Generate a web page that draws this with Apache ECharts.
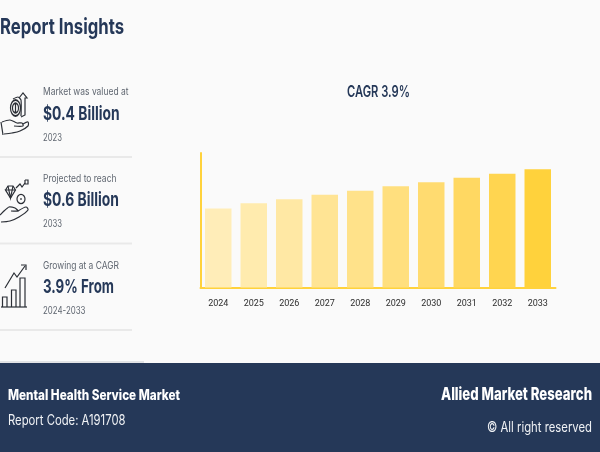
<!DOCTYPE html>
<html>
<head>
<meta charset="utf-8">
<style>
html,body{margin:0;padding:0;background:#fafafa;}
#chart{width:600px;height:452px;}
</style>
<script src="https://cdn.jsdelivr.net/npm/echarts@6/dist/echarts.min.js"></script>
</head>
<body>
<div id="chart"></div>
<script>
// data
var years = ['2024','2025','2026','2027','2028','2029','2030','2031','2032','2033'];
var marketValues = [0.40,0.426,0.446,0.469,0.489,0.512,0.532,0.555,0.575,0.598];
var barColors = ['#ffedb8','#ffebae','#ffe8a4','#ffe494','#ffe28a','#ffdf7e','#ffdb70','#ffd862','#ffd550','#ffd23c'];

var NAVY = '#253858';
var FONT = 'Inter';
var GREY = '#5f6670';
var INK = '#2b2f36';

var measure = document.createElement('canvas').getContext('2d');

// text squeezed to the width it has in the picture
function label(x, y, str, size, weight, color, width, align) {
    measure.font = weight + ' ' + size + 'px ' + FONT;
    var right = align === 'right';
    return {
        type: 'text',
        x: x,
        y: y,
        scaleX: width / measure.measureText(str).width,
        silent: true,
        style: {
            text: str,
            fontFamily: FONT,
            fontSize: size,
            fontWeight: weight,
            fill: color,
            align: right ? 'right' : 'left',
            verticalAlign: 'middle'
        }
    };
}

function rule(x1, x2, y, color, width) {
    return {
        type: 'line',
        silent: true,
        shape: {x1: x1, y1: y, x2: x2, y2: y},
        style: {stroke: color, lineWidth: width}
    };
}

function stroke(points, smooth) {
    return {
        type: 'polyline',
        silent: true,
        shape: {points: points, smooth: smooth || 0},
        style: {fill: 'none', stroke: INK, lineWidth: 1.2}
    };
}

function oval(cx, cy, r, sx, sy) {
    return {
        type: 'circle',
        silent: true,
        x: cx,
        y: cy,
        scaleX: sx || 1,
        scaleY: sy || 1,
        shape: {cx: 0, cy: 0, r: r},
        style: {fill: 'none', stroke: INK, lineWidth: 1.2}
    };
}

var iconCoin = [
    stroke([[1, 122], [3, 135]]),
    stroke([[2, 122], [10, 120], [17, 123], [22, 123], [23, 126], [14, 126]], 0.3),
    stroke([[4, 134], [12, 133], [20, 131], [28, 126], [28, 122], [23, 124]], 0.3),
    oval(15.5, 108, 5, 1, 1.6),
    oval(15.5, 108, 3, 1, 1.6),
    stroke([[15.5, 103], [15.5, 113]]),
    stroke([[13, 99], [18, 97], [21, 100], [21, 116]], 0.2),
    stroke([[19, 98], [23, 93], [27, 98], [25, 98], [25, 115], [21, 117]])
];

var iconDiamond = [
    stroke([[0, 215], [3, 212], [9, 207], [15, 208], [18, 211], [11, 211]], 0.2),
    stroke([[1, 222], [10, 221], [19, 217], [28, 210], [26, 207], [18, 211]], 0.3),
    stroke([[5.5, 190], [8, 186], [13, 186], [15.5, 190], [10.5, 198], [5.5, 190], [15.5, 190]]),
    stroke([[8, 186], [10.5, 198], [13, 186]]),
    oval(21, 199, 4, 1, 1.15),
    stroke([[21, 198], [21, 200]]),
    stroke([[16, 188], [20, 184], [22, 187], [25, 183]]),
    stroke([[25, 180], [28, 180], [28, 184], [25, 184], [25, 180]])
];

var iconBars = [
    stroke([[1, 307], [27, 307]]),
    stroke([[2.5, 307], [2.5, 297], [7, 297], [7, 307]]),
    stroke([[11.5, 307], [11.5, 290], [16, 290], [16, 307]]),
    stroke([[20, 307], [20, 278], [25, 278], [25, 307]]),
    stroke([[5, 288], [14, 273], [17, 277], [25, 266]]),
    stroke([[21, 265], [26, 265], [26, 270]])
];

var option = {
    backgroundColor: '#fafafa',
    animation: false,
    grid: {left: 200.5, top: 153, width: 355, height: 134.5},
    xAxis: {
        type: 'category',
        data: years,
        axisTick: {show: false},
        axisLine: {lineStyle: {color: '#ffd23c', width: 2}},
        axisLabel: {color: '#2e2e2e', fontFamily: 'Roboto', fontSize: 9, margin: 12}
    },
    yAxis: {
        type: 'value',
        min: 0,
        max: 0.68,
        axisLabel: {show: false},
        axisTick: {show: false},
        splitLine: {show: false},
        axisLine: {show: true, lineStyle: {color: '#ffd23c', width: 2}}
    },
    series: [{
        type: 'bar',
        barWidth: 26.5,
        data: marketValues.map(function (v, i) {
            return {value: v, itemStyle: {color: barColors[i]}};
        })
    }],
    graphic: [
        label(0, 27, 'Report Insights', 22, 700, NAVY, 124),
        label(347, 92, 'CAGR 3.9%', 16, 600, NAVY, 63),

        label(43, 92, 'Market was valued at', 10.5, 400, GREY, 85.5),
        label(43, 114.5, '$0.4 Billion', 19, 700, NAVY, 76.5),
        label(43, 138, '2023', 10, 400, GREY, 19),
        rule(0, 132, 157, '#e9e9e9', 2),

        label(43, 179, 'Projected to reach', 10.5, 400, GREY, 73.5),
        label(43, 200.5, '$0.6 Billion', 19, 700, NAVY, 76),
        label(43, 224, '2033', 10, 400, GREY, 19),
        rule(0, 132, 243.5, '#e9e9e9', 2),

        label(43, 265.5, 'Growing at a CAGR', 10.5, 400, GREY, 76),
        label(43, 287.5, '3.9% From', 19, 700, NAVY, 71),
        label(43, 311, '2024-2033', 10, 400, GREY, 42.5),
        rule(0, 132, 330, '#e9e9e9', 2),

        rule(0, 144, 362, '#c9ccd1', 1),
        {
            type: 'rect',
            silent: true,
            shape: {x: 0, y: 363, width: 600, height: 89},
            style: {fill: NAVY}
        },
        label(8, 396, 'Mental Health Service Market', 14.5, 800, '#ffffff', 172),
        label(8, 421, 'Report Code: A191708', 14, 400, '#f0f2f5', 117.5),
        label(592, 395, 'Allied Market Research', 17, 800, '#ffffff', 151, 'right'),
        label(592, 428, '© All right reserved', 14, 400, '#f0f2f5', 105, 'right')
    ].concat(iconCoin, iconDiamond, iconBars)
};

var chart = echarts.init(document.getElementById('chart'));
chart.setOption(option);
</script>
</body>
</html>
